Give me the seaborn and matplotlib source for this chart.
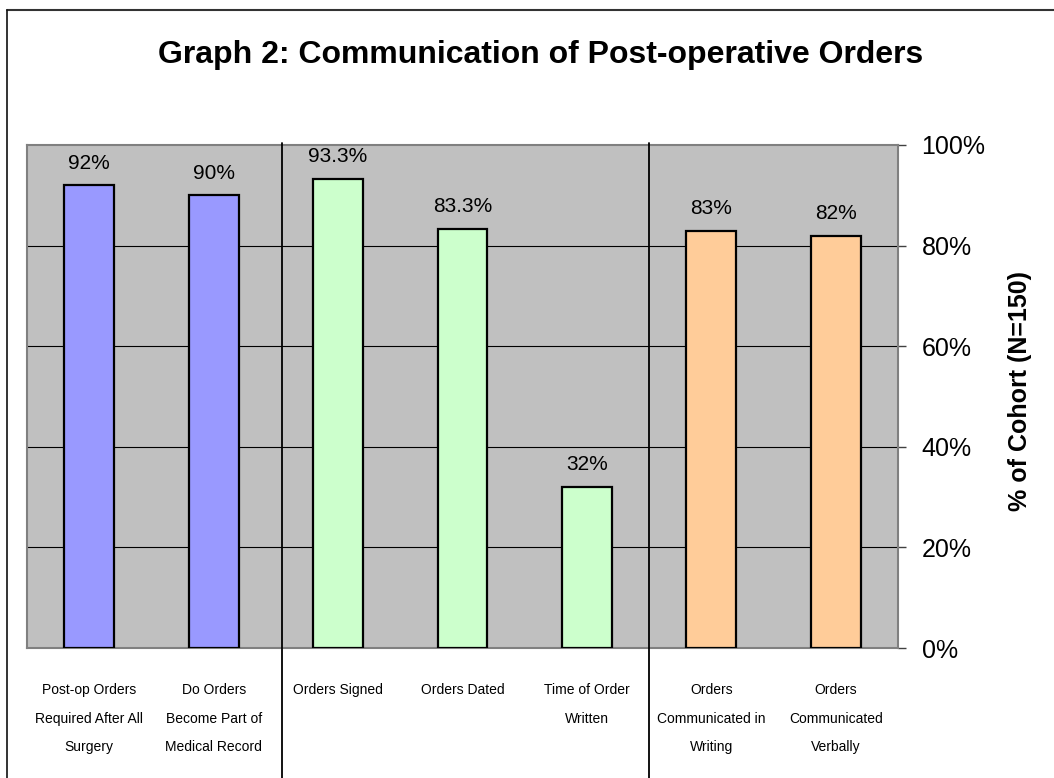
import matplotlib
matplotlib.use("Agg")
import matplotlib.pyplot as plt
from matplotlib.lines import Line2D
from matplotlib.ticker import FuncFormatter, FixedLocator
import matplotlib.transforms as mtransforms
import seaborn as sns
import pandas as pd

# ---- data ----
categories = [
    "Post-op Orders\nRequired After All\nSurgery",
    "Do Orders\nBecome Part of\nMedical Record",
    "Orders Signed",
    "Orders Dated",
    "Time of Order\nWritten",
    "Orders\nCommunicated in\nWriting",
    "Orders\nCommunicated\nVerbally",
]
values = [92, 90, 93.3, 83.3, 32, 83, 82]
value_labels = ["92%", "90%", "93.3%", "83.3%", "32%", "83%", "82%"]
groups = ["A", "A", "B", "B", "B", "C", "C"]
group_colors = {"A": "#9999FF", "B": "#CCFFCC", "C": "#FFCC99"}
y_ticks = [0, 20, 40, 60, 80, 100]
grid_levels = [20, 40, 60, 80]
separators = [1.55, 4.5]
title = "Graph 2: Communication of Post-operative Orders"
ylabel = "% of Cohort (N=150)"

sns.set_style("white")
plt.rcParams["font.family"] = ["Liberation Sans", "DejaVu Sans"]
plt.rcParams["text.color"] = "black"
plt.rcParams["xtick.color"] = "#404040"
plt.rcParams["ytick.color"] = "#404040"
plt.rcParams["xtick.labelcolor"] = "black"
plt.rcParams["ytick.labelcolor"] = "black"

W, H = 1054, 778
fig = plt.figure(figsize=(W / 100, H / 100), dpi=100)
fig.patch.set_facecolor("white")

L, R, T, B = 27, 898, 145, 648
ax = fig.add_axes([L / W, 1 - B / H, (R - L) / W, (B - T) / H])
ax.set_facecolor("#C0C0C0")

df = pd.DataFrame({"cat": categories, "value": values, "group": groups})
sns.barplot(data=df, x="cat", y="value", hue="group", palette=group_colors,
            dodge=False, width=0.4, edgecolor="black", linewidth=1.6,
            saturation=1, legend=False, order=categories, ax=ax, zorder=3)

ax.set_xlim(-0.5, len(categories) - 0.5)
ax.set_ylim(0, 100)

for lv in grid_levels:
    ax.axhline(lv, color="black", lw=0.8, zorder=1)

# bar value labels
for i, (v, lab) in enumerate(zip(values, value_labels)):
    ax.annotate(lab, (i, v), xytext=(0, 12), textcoords="offset points",
                ha="center", va="baseline", fontsize=15, color="black")

# spines
for s in ax.spines.values():
    s.set_color("#808080")
    s.set_linewidth(1.5)
    s.set_visible(True)

# y axis on right
ax.yaxis.tick_right()
ax.set_yticks(y_ticks)
ax.yaxis.set_major_formatter(FuncFormatter(lambda v, p: f"{int(v)}%"))
ax.tick_params(axis="y", which="major", direction="out", length=6, width=1,
               labelsize=18, pad=11, left=False, right=True)

# x axis: labels at centers, boundary ticks as minor
ax.set_xticks(range(len(categories)))
ax.set_xticklabels(categories, fontsize=10, linespacing=2.35)
ax.xaxis.set_minor_locator(FixedLocator([i - 0.5 for i in range(len(categories) + 1)]))
ax.tick_params(axis="x", which="major", direction="in", length=3, width=1, pad=25)
ax.tick_params(axis="x", which="minor", direction="out", length=6, width=1)
ax.set_xlabel("")
ax.set_ylabel("")

# separators from above plot top to figure bottom
trans = mtransforms.blended_transform_factory(ax.transData, fig.transFigure)
for sx in separators:
    ax.add_line(Line2D([sx, sx], [0, 1 - 143 / H], transform=trans,
                       color="black", lw=1.3, clip_on=False, zorder=5))

# title and y label
fig.text(541 / W, 1 - 63 / H, title, ha="center", va="baseline",
         fontsize=23, fontweight="bold", color="black")
fig.text(1020 / W, 1 - 391 / H, ylabel, ha="center", va="center",
         rotation=90, fontsize=18, fontweight="bold", color="black")

# frame lines (top and left)
fig.add_artist(Line2D([7 / W, 1], [1 - 10 / H, 1 - 10 / H], transform=fig.transFigure,
                      color="#333333", lw=1.5))
fig.add_artist(Line2D([7 / W, 7 / W], [0, 1 - 10 / H], transform=fig.transFigure,
                      color="#111111", lw=1.2))

fig.savefig("out.png", dpi=100)
